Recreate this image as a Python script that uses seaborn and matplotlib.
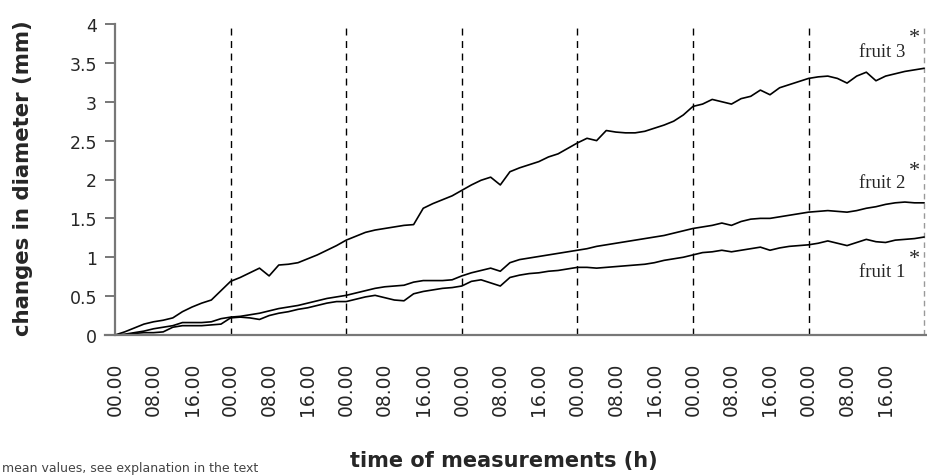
import numpy as np
import pandas as pd
import matplotlib
matplotlib.use("Agg")
import matplotlib.pyplot as plt
import seaborn as sns

# hours since start of measurements, every 2 h over 7 days
hours = list(range(0, 170, 2))

fruit_1 = [0.00, 0.00, 0.02, 0.03, 0.03, 0.04, 0.10, 0.12, 0.12, 0.12, 0.13, 0.14,
           0.22, 0.23, 0.22, 0.20, 0.25, 0.28, 0.30, 0.33, 0.35, 0.38, 0.41, 0.43,
           0.43, 0.46, 0.49, 0.51, 0.48, 0.45, 0.44, 0.53, 0.56, 0.58, 0.60, 0.61,
           0.63, 0.69, 0.71, 0.67, 0.63, 0.74, 0.77, 0.79, 0.80, 0.82, 0.83, 0.85,
           0.87, 0.87, 0.86, 0.87, 0.88, 0.89, 0.90, 0.91, 0.93, 0.96, 0.98, 1.00,
           1.03, 1.06, 1.07, 1.09, 1.07, 1.09, 1.11, 1.13, 1.09, 1.12, 1.14, 1.15,
           1.16, 1.18, 1.21, 1.18, 1.15, 1.19, 1.23, 1.20, 1.19, 1.22, 1.23, 1.24,
           1.26]

fruit_2 = [0.00, 0.01, 0.03, 0.05, 0.08, 0.10, 0.12, 0.16, 0.16, 0.16, 0.17, 0.21,
           0.23, 0.24, 0.26, 0.28, 0.31, 0.34, 0.36, 0.38, 0.41, 0.44, 0.47, 0.49,
           0.51, 0.54, 0.57, 0.60, 0.62, 0.63, 0.64, 0.68, 0.70, 0.70, 0.70, 0.71,
           0.76, 0.80, 0.83, 0.86, 0.82, 0.93, 0.97, 0.99, 1.01, 1.03, 1.05, 1.07,
           1.09, 1.11, 1.14, 1.16, 1.18, 1.20, 1.22, 1.24, 1.26, 1.28, 1.31, 1.34,
           1.37, 1.39, 1.41, 1.44, 1.41, 1.46, 1.49, 1.50, 1.50, 1.52, 1.54, 1.56,
           1.58, 1.59, 1.60, 1.59, 1.58, 1.60, 1.63, 1.65, 1.68, 1.70, 1.71, 1.70,
           1.70]

fruit_3 = [0.00, 0.04, 0.09, 0.14, 0.17, 0.19, 0.22, 0.30, 0.36, 0.41, 0.45, 0.57,
           0.69, 0.74, 0.80, 0.86, 0.76, 0.90, 0.91, 0.93, 0.98, 1.03, 1.09, 1.15,
           1.22, 1.27, 1.32, 1.35, 1.37, 1.39, 1.41, 1.42, 1.63, 1.69, 1.74, 1.79,
           1.86, 1.93, 1.99, 2.03, 1.93, 2.10, 2.15, 2.19, 2.23, 2.29, 2.33, 2.40,
           2.47, 2.53, 2.50, 2.63, 2.61, 2.60, 2.60, 2.62, 2.66, 2.70, 2.75, 2.83,
           2.94, 2.97, 3.03, 3.00, 2.97, 3.04, 3.07, 3.15, 3.09, 3.18, 3.22, 3.26,
           3.30, 3.32, 3.33, 3.30, 3.24, 3.33, 3.38, 3.27, 3.33, 3.36, 3.39, 3.41,
           3.43]

tick_hours = list(range(0, 168, 8))
tick_labels = ["00.00", "08.00", "16.00"] * 7
day_hours = list(range(24, 169, 24))

series_labels = {"fruit 3": (3.65, 3.82), "fruit 2": (1.955, 2.12), "fruit 1": (0.82, 0.99)}

df = pd.DataFrame({"hour": hours * 3,
                   "diameter": fruit_1 + fruit_2 + fruit_3,
                   "fruit": ["fruit 1"] * len(hours) + ["fruit 2"] * len(hours) + ["fruit 3"] * len(hours)})

sns.set_style("white")
plt.rcParams["font.family"] = ["DejaVu Sans"]

fig = plt.figure(figsize=(9.28, 4.77), dpi=100)
ax = fig.add_axes([105 / 928, 1 - 336 / 477, 822 / 928, 311 / 477])

sns.lineplot(data=df, x="hour", y="diameter", units="fruit", estimator=None,
             color="black", lw=1.2, ax=ax)

# day boundaries
for h in day_hours[:-1]:
    ax.axvline(h, color="black", lw=1, ls=(0, (5, 4)), zorder=1)
ax.axvline(day_hours[-1], color="#999999", lw=1, ls=(0, (4, 3)), zorder=1)

ax.set_xlim(-2.08, 168.6)
ax.set_ylim(0, 4)

for s in ["top", "right"]:
    ax.spines[s].set_visible(False)
ax.spines["left"].set_position(("data", 0))
for s in ["left", "bottom"]:
    ax.spines[s].set_color("#777777")
    ax.spines[s].set_linewidth(1.6)

ax.set_yticks(np.arange(0, 4.01, 0.5))
ax.set_yticklabels(["0", "0.5", "1", "1.5", "2", "2.5", "3", "3.5", "4"])
ax.tick_params(axis="y", direction="out", length=7, width=1.4, color="#777777",
               labelsize=12.5, pad=6, left=True)

ax.set_xticks(tick_hours)
ax.set_xticklabels(tick_labels, rotation=90)
ax.tick_params(axis="x", which="major", length=0, labelsize=13.5, pad=19)
ax.set_xticks([0] + day_hours[:-1], minor=True)
ax.tick_params(axis="x", which="minor", direction="out", length=6, width=1.4,
               color="black", bottom=True)

ax.set_ylabel("changes in diameter (mm)", fontsize=15.3, fontweight="bold")
ax.yaxis.set_label_coords((33 - 105) / 822, (336 - 178) / 311)
ax.set_xlabel("time of measurements (h)", fontsize=15, fontweight="bold")
ax.xaxis.set_label_coords((504 - 105) / 822, -(451 - 336) / 311)

for name, (yt, ya) in series_labels.items():
    ax.text(164.1, yt, name, ha="right", va="center", fontsize=13.5,
            family="Liberation Serif")
    ax.text(165.9, ya, "*", ha="center", va="center", fontsize=16,
            family="Liberation Serif")

fig.text(0.002, 0.004, "mean values, see explanation in the text", fontsize=9,
         ha="left", va="bottom", color="#444444")

fig.savefig("out.png", dpi=100)
